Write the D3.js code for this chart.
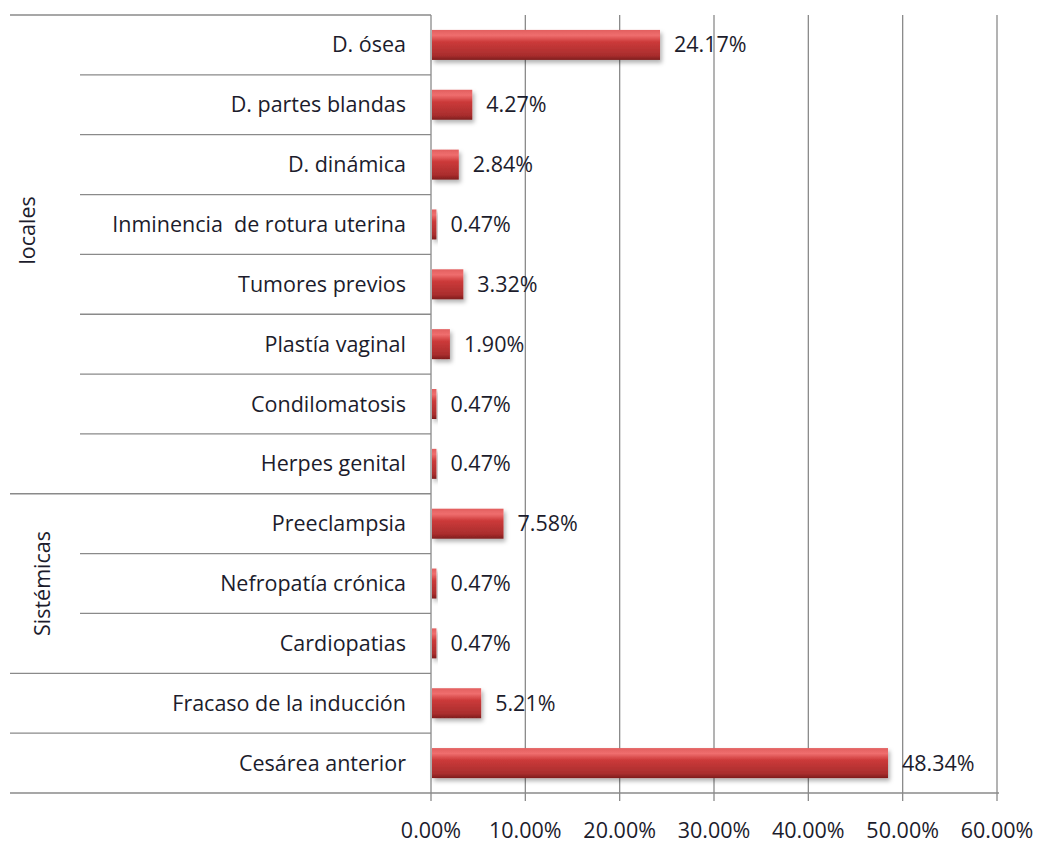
<!DOCTYPE html>
<meta charset="utf-8">
<html>
<style>
body { margin: 0; background: #fff; }
svg { display: block; }
text { font-family: "Open Sans", "Noto Sans", sans-serif; fill: #1c1c2c; font-size: 21.5px; }
.sep, .grid { stroke: #8a8a8a; stroke-width: 1.3px; }
</style>
<body>
<script src="https://cdnjs.cloudflare.com/ajax/libs/d3/7.8.5/d3.min.js"></script>
<script>
	// data
	var categories = ["D. ósea", "D. partes blandas", "D. dinámica", "Inminencia  de rotura uterina",
		"Tumores previos", "Plastía vaginal", "Condilomatosis", "Herpes genital",
		"Preeclampsia", "Nefropatía crónica", "Cardiopatias",
		"Fracaso de la inducción", "Cesárea anterior"];
	var values = [24.17, 4.27, 2.84, 0.47, 3.32, 1.90, 0.47, 0.47, 7.58, 0.47, 0.47, 5.21, 48.34];
	var groups = [
		{name: "locales", from: 0, to: 7},
		{name: "Sistémicas", from: 8, to: 10},
		{name: "", from: 11, to: 11},
		{name: "", from: 12, to: 12}
	];
	var ticks = [0, 10, 20, 30, 40, 50, 60];

	var width = 1041;
	var height = 844;

	var plotLeft = 431, plotRight = 997, plotTop = 15, plotBottom = 793;

	var svg = d3.select("body").append("svg")
		.attr("width", width)
		.attr("height", height);

	var defs = svg.append("defs");
	var grad = defs.append("linearGradient")
		.attr("id", "barGrad")
		.attr("x1", 0).attr("y1", 0).attr("x2", 0).attr("y2", 1);
	grad.append("stop").attr("offset", "0%").attr("stop-color", "#e25f5f");
	grad.append("stop").attr("offset", "18%").attr("stop-color", "#ef6e6e");
	grad.append("stop").attr("offset", "40%").attr("stop-color", "#cc3a3a");
	grad.append("stop").attr("offset", "85%").attr("stop-color", "#a92d2d");
	grad.append("stop").attr("offset", "100%").attr("stop-color", "#7e1d1d");

	var shadow = defs.append("filter").attr("id", "shadow")
		.attr("x", "-20%").attr("y", "-30%").attr("width", "150%").attr("height", "180%");
	shadow.append("feDropShadow")
		.attr("dx", 2).attr("dy", 3).attr("stdDeviation", 2)
		.attr("flood-color", "#000").attr("flood-opacity", 0.3);

	var x = d3.scaleLinear().domain([0, 60]).range([plotLeft, plotRight]);
	var y = d3.scaleBand().domain(categories).range([plotTop, plotBottom]);

	// vertical grid lines, running a little below the axis as ticks
	svg.append("g").selectAll("line")
		.data(ticks)
		.join("line")
		.attr("class", "grid")
		.attr("x1", d => x(d)).attr("x2", d => x(d))
		.attr("y1", plotTop).attr("y2", plotBottom + 8);

	// horizontal separators on the category side
	var n = categories.length;
	var groupEdges = new Set();
	groups.forEach(g => { groupEdges.add(g.from); groupEdges.add(g.to + 1); });
	var edgeY = i => i === n ? plotBottom : y(categories[i]);

	svg.append("g").selectAll("line")
		.data(d3.range(n + 1))
		.join("line")
		.attr("class", "sep")
		.attr("x1", i => groupEdges.has(i) ? 10 : 80)
		.attr("x2", i => i === n ? plotRight + 2 : plotLeft)
		.attr("y1", edgeY)
		.attr("y2", edgeY);

	// category labels
	svg.append("g").selectAll("text")
		.data(categories)
		.join("text")
		.attr("x", 406)
		.attr("y", d => y(d) + y.bandwidth() / 2)
		.attr("dy", "0.35em")
		.attr("text-anchor", "end")
		.style("white-space", "pre")
		.text(d => d);

	// group labels
	svg.append("g").selectAll("text")
		.data(groups.filter(g => g.name))
		.join("text")
		.attr("transform", g => {
			var cy = (y(categories[g.from]) + y(categories[g.to]) + y.bandwidth()) / 2;
			if (g.name === "locales") cy -= 24;
			return "translate(" + (g.name === "locales" ? 27 : 42) + "," + cy + ") rotate(-90)";
		})
		.attr("text-anchor", "middle")
		.attr("dy", "0.35em")
		.text(g => g.name);

	// bars
	var barH = 30;
	svg.append("g").selectAll("rect")
		.data(values)
		.join("rect")
		.attr("x", plotLeft + 1)
		.attr("y", (d, i) => y(categories[i]) + (y.bandwidth() - barH) / 2)
		.attr("width", d => x(d) - plotLeft)
		.attr("height", barH)
		.attr("fill", "url(#barGrad)")
		.attr("filter", "url(#shadow)");

	// value labels
	svg.append("g").selectAll("text")
		.data(values)
		.join("text")
		.attr("x", d => x(d) + 15)
		.attr("y", (d, i) => y(categories[i]) + y.bandwidth() / 2)
		.attr("dy", "0.35em")
		.text(d => d.toFixed(2) + "%");

	// x axis labels
	svg.append("g").selectAll("text")
		.data(ticks)
		.join("text")
		.attr("x", d => x(d))
		.attr("y", 838)
		.attr("text-anchor", "middle")
		.text(d => d.toFixed(2) + "%");
</script>
</body>
</html>
